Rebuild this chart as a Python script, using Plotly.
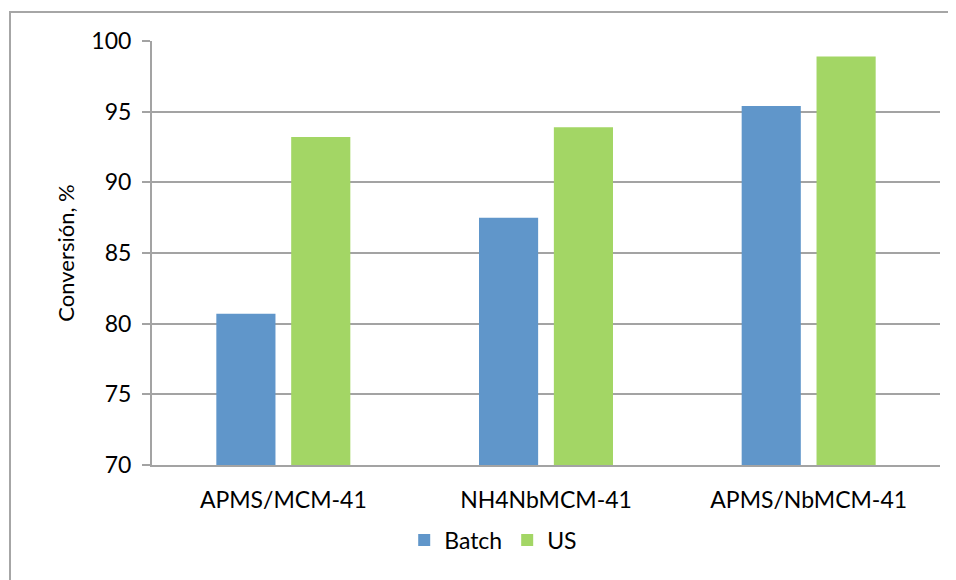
import plotly.graph_objects as go

categories = ["APMS/MCM-41", "NH4NbMCM-41", "APMS/NbMCM-41"]
batch = [80.7, 87.5, 95.4]
us = [93.2, 93.9, 98.9]
y_ticks = [70, 75, 80, 85, 90, 95, 100]

FONT = "Lato, 'Open Sans', sans-serif"
GRID = "#a3a3a3"
FS = 23

fig = go.Figure()
fig.add_trace(go.Bar(name="Batch", x=categories, y=batch, marker=dict(color="#6096ca", line=dict(width=0))))
fig.add_trace(go.Bar(name="US", x=categories, y=us, marker=dict(color="#a3d665", line=dict(width=0))))

# page body has an 8px margin; lay the figure out in page pixels minus that offset
OFF = 8
W, H = 956 - OFF, 580 - OFF
L, R, T, B = 152 - OFF, 940 - OFF, 41 - OFF, 465 - OFF
fig.update_layout(
    width=W, height=H,
    margin=dict(l=L, r=W - R, t=T, b=H - B, autoexpand=False),
    paper_bgcolor="white", plot_bgcolor="white",
    barmode="group", bargap=0.43, bargroupgap=0.21,
    font=dict(family=FONT, size=FS, color="#000000"),
    showlegend=True,
    legend=dict(orientation="h", x=0.433, xanchor="center", y=-0.177, yanchor="middle",
                font=dict(size=FS), itemwidth=30, traceorder="normal"),
    xaxis=dict(showline=True, linecolor=GRID, linewidth=2, ticks="", showgrid=False,
               ticklabelstandoff=13, tickfont=dict(size=FS), automargin=False),
    yaxis=dict(range=[70, 100], tickvals=y_ticks, showgrid=True, gridcolor=GRID, gridwidth=2,
               showline=True, linecolor=GRID, linewidth=2, ticks="outside", ticklen=8,
               tickcolor=GRID, tickwidth=2, zeroline=False, ticklabelstandoff=6,
               tickfont=dict(size=FS), automargin=False,
               title=dict(text="Conversión, %", font=dict(size=22), standoff=11)),
    shapes=[dict(type="rect", xref="paper", yref="paper",
                 x0=(10 - OFF - L) / (R - L), x1=(965 - OFF - L) / (R - L),
                 y0=(B - (590 - OFF)) / (B - T), y1=(B - (12 - OFF)) / (B - T),
                 line=dict(color="#a6a6a6", width=2), fillcolor="rgba(0,0,0,0)", layer="below")],
)
fig.write_html("out.html")
